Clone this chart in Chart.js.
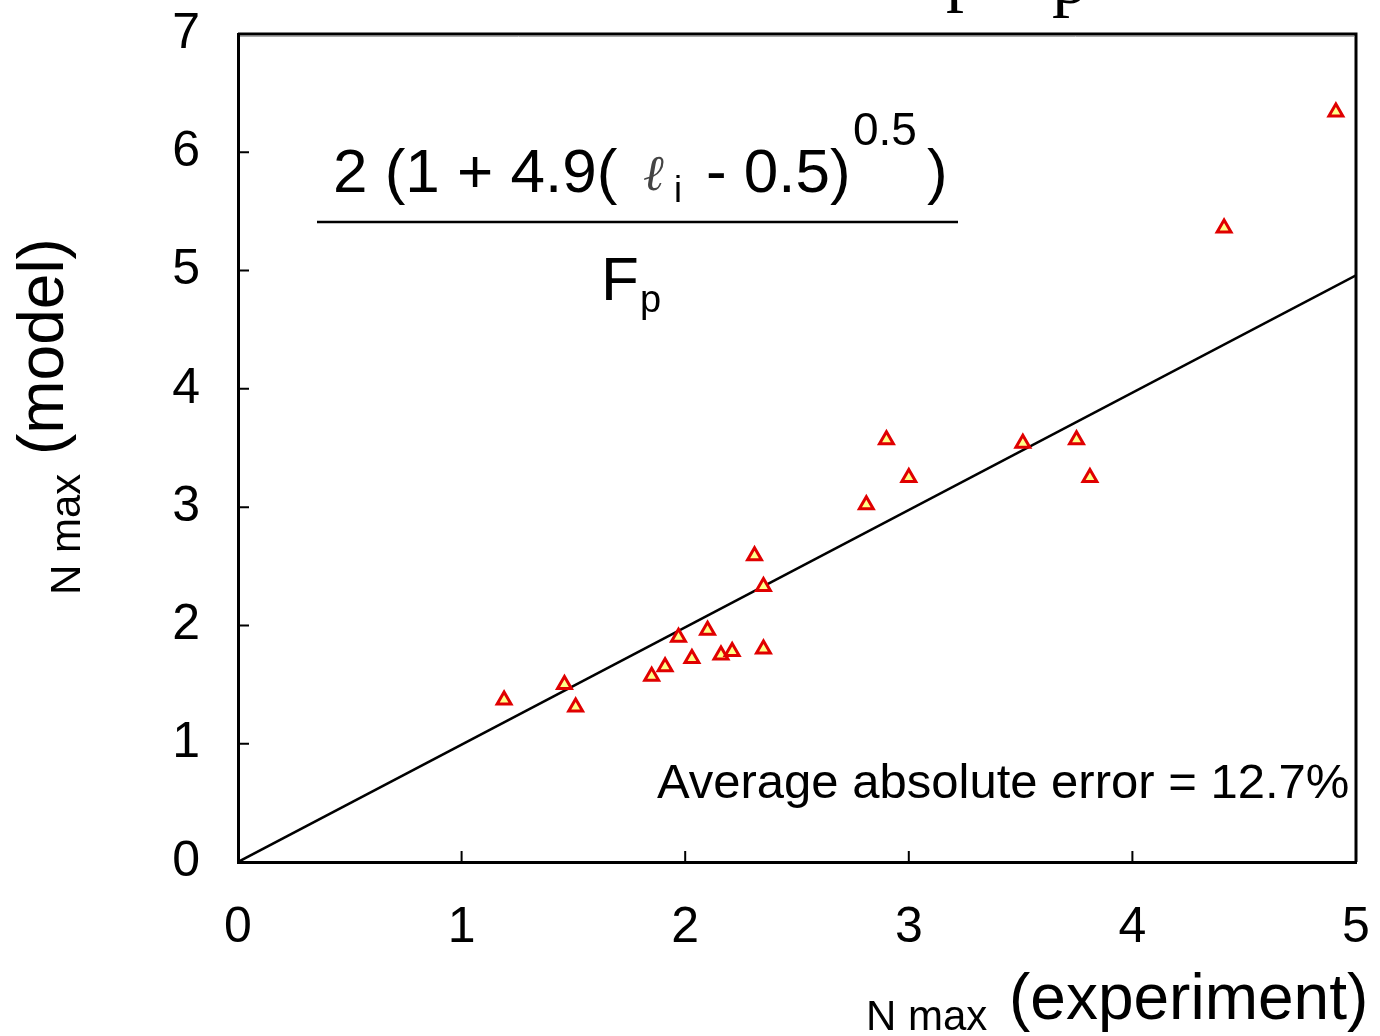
<!DOCTYPE html>
<html>
<head>
<meta charset="utf-8">
<script src="https://cdn.jsdelivr.net/npm/chart.js@4.4.0/dist/chart.umd.min.js"></script>
<style>
  html, body { margin: 0; padding: 0; background: #fff; }
  #wrap { width: 1380px; height: 1036px; position: relative; }
</style>
</head>
<body>
<div id="wrap"><canvas id="chart"></canvas></div>
<script>
// ====== DATA ======
const nExperiment = [1.19, 1.46, 1.51, 1.85, 1.91, 1.97, 2.03, 2.10, 2.16, 2.21, 2.31, 2.35, 2.35, 2.81, 2.90, 3.00, 3.51, 3.75, 3.81, 4.41, 4.91];
const nModel      = [1.37, 1.50, 1.31, 1.57, 1.65, 1.90, 1.72, 1.96, 1.75, 1.78, 2.59, 2.33, 1.80, 3.02, 3.57, 3.25, 3.54, 3.57, 3.25, 5.36, 6.34];
const fitX = [0, 5];
const fitY = [0, 4.96];
const xTicks = [0, 1, 2, 3, 4, 5];
const yTicks = [0, 1, 2, 3, 4, 5, 6, 7];

const FONT = "'Liberation Sans', Arial, sans-serif";

const points = nExperiment.map((x, i) => ({ x: x, y: nModel[i] }));
const fitLine = fitX.map((x, i) => ({ x: x, y: fitY[i] }));

// ====== FRAME, INWARD TICKS, TEXT ======
const decor = {
  id: "decor",
  afterDatasetsDraw(chart) {
    const { ctx, chartArea: a, scales } = chart;
    ctx.save();
    // top + right frame
    ctx.strokeStyle = "#000";
    ctx.lineWidth = 3;
    ctx.beginPath();
    ctx.moveTo(a.left, a.top);
    ctx.lineTo(a.right, a.top);
    ctx.lineTo(a.right, a.bottom);
    ctx.stroke();
    ctx.strokeStyle = "#aaa";
    ctx.lineWidth = 1;
    ctx.beginPath();
    ctx.moveTo(a.left + 2, a.top + 2.5);
    ctx.lineTo(a.right - 2, a.top + 2.5);
    ctx.stroke();
    // inward ticks
    ctx.strokeStyle = "#000";
    ctx.lineWidth = 2;
    ctx.beginPath();
    xTicks.slice(1, -1).forEach(v => {
      const px = scales.x.getPixelForValue(v);
      ctx.moveTo(px, a.bottom);
      ctx.lineTo(px, a.bottom - 11);
    });
    yTicks.slice(1, -1).forEach(v => {
      const py = scales.y.getPixelForValue(v);
      ctx.moveTo(a.left, py);
      ctx.lineTo(a.left + 11, py);
    });
    ctx.stroke();
    ctx.restore();
  },
  afterDraw(chart) {
    const { ctx } = chart;
    ctx.save();
    ctx.fillStyle = "#000";
    ctx.textBaseline = "alphabetic";
    ctx.textAlign = "left";

    // cut-off title remains
    ctx.font = "72px 'Liberation Serif', 'Times New Roman', serif";
    ctx.fillText("p", 946, -2);
    ctx.fillText("p", 1052, 3);

    // formula
    ctx.font = "62px " + FONT;
    ctx.fillText("2 (1 + 4.9(", 333, 192);
    ctx.fillStyle = "#444";
    ctx.font = "italic 50px 'DejaVu Serif', serif";
    ctx.fillText("\u2113", 643, 190);
    ctx.fillStyle = "#000";
    ctx.font = "36px " + FONT;
    ctx.fillText("i", 674, 202);
    ctx.font = "62px " + FONT;
    ctx.fillText("- 0.5)", 706, 192);
    ctx.font = "46px " + FONT;
    ctx.fillText("0.5", 853, 145);
    ctx.font = "62px " + FONT;
    ctx.fillText(")", 927, 192);

    ctx.lineWidth = 2.5;
    ctx.beginPath();
    ctx.moveTo(317, 222);
    ctx.lineTo(958, 222);
    ctx.stroke();

    ctx.font = "62px " + FONT;
    ctx.fillText("F", 601, 300);
    ctx.font = "38px " + FONT;
    ctx.fillText("p", 640, 312);

    // annotation
    ctx.font = "49px " + FONT;
    ctx.fillText("Average absolute error = 12.7%", 657, 798);

    // x axis title
    ctx.font = "42px " + FONT;
    ctx.fillText("N max", 866, 1030);
    ctx.font = "64px " + FONT;
    ctx.fillText("(experiment)", 1009, 1019);

    // y axis title
    ctx.translate(80, 595);
    ctx.rotate(-Math.PI / 2);
    ctx.font = "42px " + FONT;
    ctx.fillText("N max", 0, 0);
    ctx.font = "64px " + FONT;
    ctx.fillText("(model)", 140, -17);
    ctx.restore();
  }
};

// ====== CHART ======
const ctx = document.getElementById("chart").getContext("2d");

new Chart(ctx, {
  type: "scatter",
  data: {
    datasets: [
      {
        label: "N max",
        data: points,
        order: 0,
        pointStyle: "triangle",
        pointRadius: 8,
        pointBorderWidth: 3,
        borderColor: "#e00000",
        backgroundColor: "#ffff88"
      },
      {
        label: "fit",
        data: fitLine,
        order: 1,
        showLine: true,
        borderColor: "#000",
        borderWidth: 2.5,
        pointRadius: 0
      }
    ]
  },
  options: {
    responsive: true,
    maintainAspectRatio: false,
    animation: false,
    layout: { padding: { left: 0, top: 34, right: 24, bottom: 0 } },
    plugins: {
      legend: { display: false },
      tooltip: { enabled: false }
    },
    scales: {
      x: {
        type: "linear",
        min: 0,
        max: 5,
        afterFit: s => { s.height = 174; s.paddingLeft = 0; s.paddingRight = 0; },
        afterBuildTicks: s => { s.ticks = xTicks.map(v => ({ value: v })); },
        grid: { display: false, drawTicks: false },
        border: { display: true, color: "#000", width: 3 },
        ticks: { color: "#000", padding: 36, font: { family: FONT, size: 50 } }
      },
      y: {
        type: "linear",
        min: 0,
        max: 7,
        afterFit: s => { s.width = 238; s.paddingTop = 0; s.paddingBottom = 0; },
        afterBuildTicks: s => { s.ticks = yTicks.map(v => ({ value: v })); },
        grid: { display: false, drawTicks: false },
        border: { display: true, color: "#000", width: 3 },
        ticks: { color: "#000", padding: 38, font: { family: FONT, size: 50 } }
      }
    }
  },
  plugins: [decor]
});
</script>
</body>
</html>
